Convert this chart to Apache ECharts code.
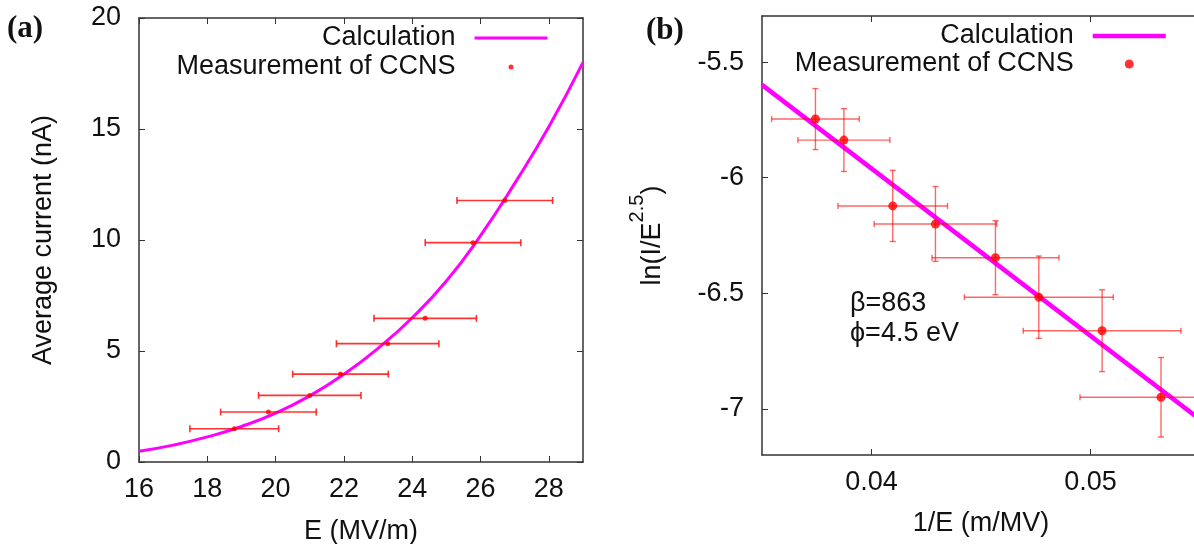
<!DOCTYPE html>
<html>
<head>
<meta charset="utf-8">
<script src="https://cdn.jsdelivr.net/npm/echarts@6/dist/echarts.min.js"></script>
<style>
  html, body { margin: 0; padding: 0; background: #fff; }
  #main { width: 1194px; height: 544px; }
</style>
</head>
<body>
<div id="main"></div>
<script>
// (a) current vs field
var calcE = [16, 17, 18, 19, 20, 21, 22, 23, 24, 25, 26, 27, 28, 29];
var calcI = [0.48, 0.76, 1.13, 1.6, 2.2, 2.98, 3.95, 5.12, 6.5, 8.15, 10.2, 12.55, 15.1, 18.0];
var measE = [18.79, 19.79, 21.0, 21.9, 23.28, 24.38, 25.78, 26.71];
var measEErr = [1.3, 1.4, 1.5, 1.4, 1.5, 1.5, 1.4, 1.4];
var measI = [1.5, 2.25, 3.0, 3.96, 5.33, 6.47, 9.88, 11.78];
var aXTicks = [16, 18, 20, 22, 24, 26, 28];
var aYTicks = [0, 5, 10, 15, 20];

// (b) Fowler-Nordheim plot
var calcInvE = [0.035, 0.055];
var calcLn = [-5.598, -7.046];
var measInvE = [0.03744, 0.03874, 0.04097, 0.04292, 0.04566, 0.04764, 0.05053, 0.05322];
var measInvEErr = [0.0020, 0.0021, 0.0025, 0.0028, 0.0029, 0.0034, 0.0036, 0.0037];
var measLn = [-5.746, -5.837, -6.122, -6.200, -6.346, -6.517, -6.662, -6.950];
var measLnErr = [0.132, 0.136, 0.154, 0.162, 0.160, 0.178, 0.177, 0.172];
var bXTicks = [0.04, 0.05];
var bYTicks = [-7, -6.5, -6, -5.5];

var FONT = '"Liberation Sans", Arial, Helvetica, sans-serif';
var SERIF = '"Liberation Serif", "Times New Roman", serif';
var MAGENTA = '#ff00ff';
var RED = '#ff0000';

var chart = echarts.init(document.getElementById('main'));

function zip(xs, ys) {
  return xs.map(function (x, i) { return [x, ys[i]]; });
}

// one side of the frame; labels only on bottom/left
function frameAxis(pos, grid, min, max, ticks, withLabels, extra) {
  var ax = {
    type: 'value',
    gridIndex: grid,
    position: pos,
    min: min,
    max: max,
    axisLine: { show: true, onZero: false, lineStyle: { color: '#333', width: 1.5 } },
    axisTick: { show: true, inside: true, length: 6, customValues: ticks, lineStyle: { color: '#333', width: 1 } },
    splitLine: { show: false },
    axisLabel: {
      show: withLabels,
      customValues: ticks,
      color: '#111',
      fontSize: 27,
      fontFamily: FONT,
      margin: (pos === 'left' || pos === 'right') ? 18 : 14
    }
  };
  for (var k in extra) ax[k] = extra[k];
  return ax;
}

// horizontal (and optionally vertical) error bars
function errRender(cap, color, width, vertical) {
  return function (params, api) {
    var x = api.value(0), y = api.value(1);
    var st = { stroke: color, lineWidth: width };
    var l = api.coord([api.value(2), y]);
    var r = api.coord([api.value(3), y]);
    var kids = [
      { type: 'line', shape: { x1: l[0], y1: l[1], x2: r[0], y2: r[1] }, style: st },
      { type: 'line', shape: { x1: l[0], y1: l[1] - cap, x2: l[0], y2: l[1] + cap }, style: st },
      { type: 'line', shape: { x1: r[0], y1: r[1] - cap, x2: r[0], y2: r[1] + cap }, style: st }
    ];
    if (vertical) {
      var t = api.coord([x, api.value(5)]);
      var b = api.coord([x, api.value(4)]);
      kids.push(
        { type: 'line', shape: { x1: t[0], y1: t[1], x2: b[0], y2: b[1] }, style: st },
        { type: 'line', shape: { x1: t[0] - cap, y1: t[1], x2: t[0] + cap, y2: t[1] }, style: st },
        { type: 'line', shape: { x1: b[0] - cap, y1: b[1], x2: b[0] + cap, y2: b[1] }, style: st }
      );
    }
    return { type: 'group', children: kids };
  };
}

var errA = measE.map(function (e, i) {
  return [e, measI[i], e - measEErr[i], e + measEErr[i]];
});
var errB = measInvE.map(function (v, i) {
  return [v, measLn[i], v - measInvEErr[i], v + measInvEErr[i], measLn[i] - measLnErr[i], measLn[i] + measLnErr[i]];
});

var legendText = { fontSize: 27, lineHeight: 28, color: '#111', fontFamily: FONT, padding: [0, 14, 0, 0] };
// line sample only, hide the symbol echarts puts in the middle
var legendItems = [
  { name: 'Calculation', itemStyle: { opacity: 0 } },
  { name: 'Measurement of CCNS' }
];

var option = {
  backgroundColor: '#fff',
  animation: false,
  grid: [
    { left: 139, top: 18, width: 444, height: 444, outerBoundsMode: 'none' },
    { left: 762, top: 16, width: 438, height: 439, outerBoundsMode: 'none' }
  ],
  xAxis: [
    frameAxis('bottom', 0, 16, 29, aXTicks, true, {
      name: 'E (MV/m)', nameLocation: 'middle', nameGap: 56,
      nameTextStyle: { fontSize: 27, color: '#111', fontFamily: FONT }
    }),
    frameAxis('top', 0, 16, 29, aXTicks, false, {}),
    frameAxis('bottom', 1, 0.035, 0.055, bXTicks, true, {
      name: '1/E (m/MV)', nameLocation: 'middle', nameGap: 55,
      nameTextStyle: { fontSize: 27, color: '#111', fontFamily: FONT }
    }),
    frameAxis('top', 1, 0.035, 0.055, bXTicks, false, {})
  ],
  yAxis: [
    frameAxis('left', 0, 0, 20, aYTicks, true, {
      name: 'Average current (nA)', nameLocation: 'middle', nameGap: 82,
      nameTextStyle: { fontSize: 27, color: '#111', fontFamily: FONT }
    }),
    frameAxis('right', 0, 0, 20, aYTicks, false, {}),
    frameAxis('left', 1, -7.2, -5.3, bYTicks, true, {
      // g is an invisible spacer that makes the line tall enough to lift the exponent
      name: '{g| }{m|ln(I/E}{s|2.5}{m|)}', nameLocation: 'middle', nameGap: 96,
      nameTextStyle: {
        color: '#111', fontFamily: FONT,
        rich: {
          g: { fontSize: 2, lineHeight: 39, width: 0 },
          m: { fontSize: 27, lineHeight: 27, verticalAlign: 'bottom', fontFamily: FONT, color: '#111' },
          s: { fontSize: 20, lineHeight: 20, verticalAlign: 'top', fontFamily: FONT, color: '#111' }
        }
      }
    }),
    frameAxis('right', 1, -7.2, -5.3, bYTicks, false, {})
  ],
  legend: [
    {
      right: 645, top: 24, orient: 'vertical', align: 'right', padding: 0,
      itemWidth: 73, itemHeight: 5, itemGap: 1, selectedMode: false,
      lineStyle: { width: 3 },
      textStyle: legendText,
      data: legendItems
    },
    {
      right: 26, top: 22, orient: 'vertical', align: 'right', padding: 0,
      itemWidth: 73, itemHeight: 9, itemGap: 0, selectedMode: false,
      lineStyle: { width: 4.5 },
      textStyle: legendText,
      data: legendItems
    }
  ],
  graphic: [
    { type: 'text', left: 7, top: 13, style: { text: '(a)', font: 'bold 31px ' + SERIF, fill: '#111' } },
    { type: 'text', left: 646, top: 15, style: { text: '(b)', font: 'bold 31px ' + SERIF, fill: '#111' } },
    { type: 'text', left: 850, top: 288, style: { text: '\u03b2=863\n\u03d5=4.5 eV', font: '27px ' + FONT, lineHeight: 30.6, fill: '#111' } }
  ],
  series: [
    {
      name: 'Calculation', type: 'line', xAxisIndex: 0, yAxisIndex: 0,
      data: zip(calcE, calcI), smooth: true, symbol: 'none', z: 2,
      lineStyle: { color: MAGENTA, width: 3 }, itemStyle: { color: MAGENTA }
    },
    {
      name: 'errA', type: 'custom', xAxisIndex: 0, yAxisIndex: 0, clip: true, z: 3,
      data: errA, encode: { x: [0, 2, 3], y: 1 },
      renderItem: errRender(3.5, 'rgba(255,0,0,0.8)', 1.6, false)
    },
    {
      name: 'Measurement of CCNS', type: 'scatter', xAxisIndex: 0, yAxisIndex: 0, z: 4,
      data: zip(measE, measI), symbol: 'circle', symbolSize: 5, itemStyle: { color: RED }
    },
    {
      name: 'Calculation', type: 'line', xAxisIndex: 2, yAxisIndex: 2,
      data: zip(calcInvE, calcLn), symbol: 'none', z: 2,
      lineStyle: { color: MAGENTA, width: 4.5 }, itemStyle: { color: MAGENTA }
    },
    {
      name: 'errB', type: 'custom', xAxisIndex: 2, yAxisIndex: 2, clip: true, z: 3,
      data: errB, encode: { x: [0, 2, 3], y: [1, 4, 5] },
      renderItem: errRender(3, 'rgba(255,0,0,0.6)', 1.4, true)
    },
    {
      name: 'Measurement of CCNS', type: 'scatter', xAxisIndex: 2, yAxisIndex: 2, z: 4,
      data: zip(measInvE, measLn), symbol: 'circle', symbolSize: 9, itemStyle: { color: RED }
    }
  ]
};

chart.setOption(option);
</script>
</body>
</html>
